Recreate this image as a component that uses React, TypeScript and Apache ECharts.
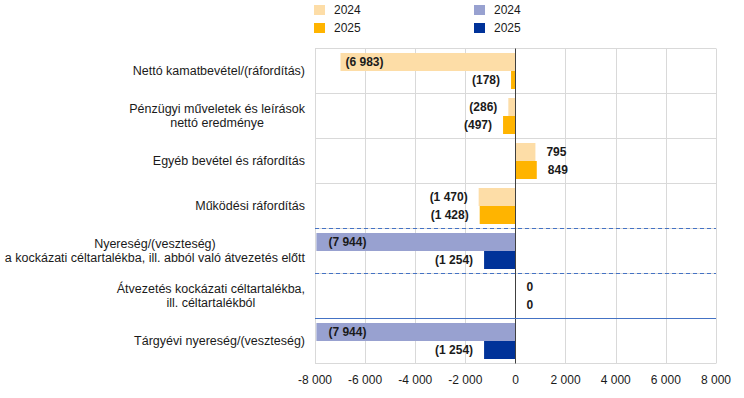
import React, { useEffect, useRef } from "react";
import * as echarts from "echarts";

const categories = [
  "Nettó kamatbevétel/(ráfordítás)",
  "Pénzügyi műveletek és leírások\nnettó eredménye",
  "Egyéb bevétel és ráfordítás",
  "Működési ráfordítás",
  "Nyereség/(veszteség)\na kockázati céltartalékba, ill. abból való átvezetés előtt",
  "Átvezetés kockázati céltartalékba,\nill. céltartalékból",
  "Tárgyévi nyereség/(veszteség)",
];

// first four categories (orange series)
const orange2024 = [-6983, -286, 795, -1470];
const orange2025 = [-178, -497, 849, -1428];
// last three categories (blue series)
const blue2024 = [-7944, 0, -7944];
const blue2025 = [-1254, 0, -1254];

const xTicks = { min: -8000, max: 8000, interval: 2000 };
const separatorLines = [4, 5, 6]; // boundaries before the blue categories

const FONT = "'Liberation Sans', Arial, sans-serif";

const fmt = (n: number) => String(Math.round(n)).replace(/\B(?=(\d{3})+(?!\d))/g, " ");
const fmtSigned = (v: number) => (v < 0 ? "-" + fmt(-v) : fmt(v));
const fmtLabel = (v: number) => (v < 0 ? `(${fmt(-v)})` : fmt(v));

function buildData(vals: (number | null)[], insideDist: number) {
  return vals.map((v) => {
    if (v === null) return "-";
    let position = "right";
    let distance = 11;
    if (v < 0) {
      if (v < -5000) {
        position = "insideLeft";
        distance = insideDist;
      } else {
        position = "left";
        distance = 11;
      }
    }
    return { value: v, label: { position, distance } };
  });
}

const pad = (n: number) => new Array(n).fill(null);

export default function App() {
  const ref = useRef<HTMLDivElement>(null);
  useEffect(() => {
    if (!ref.current) return;
    const chart = echarts.init(ref.current, null, { renderer: "svg" });
    const labelCommon = {
      show: true,
      fontFamily: FONT,
      fontSize: 12,
      fontWeight: "bold",
      color: "#1a1a1a",
      formatter: (p: any) => fmtLabel(Number(p.value)),
    };
    const barCommon = {
      type: "bar",
      barWidth: "40%",
      barGap: "0%",
      label: labelCommon,
    };
    const legendCommon = {
      orient: "vertical",
      top: 4,
      padding: 0,
      itemWidth: 11,
      itemHeight: 10,
      itemGap: 6,
      icon: "rect",
      selectedMode: false,
      textStyle: { fontFamily: FONT, fontSize: 12, color: "#1a1a1a", padding: [0, 0, 0, 4] },
      formatter: (name: string) => name.trim(),
    };
    chart.setOption({
      animation: false,
      legend: [
        { ...legendCommon, left: 314, data: ["2024", "2025"] },
        { ...legendCommon, left: 474, data: ["2024 ", "2025 "] },
      ],
      grid: { left: 315, right: 28, top: 48.5, bottom: 34.5 },
      xAxis: {
        type: "value",
        min: xTicks.min,
        max: xTicks.max,
        interval: xTicks.interval,
        axisLine: { show: false },
        axisTick: { show: false },
        splitLine: { show: true, lineStyle: { color: "#d9d9d9", width: 1 } },
        axisLabel: {
          fontFamily: FONT,
          fontSize: 12,
          color: "#1a1a1a",
          margin: 10,
          formatter: (v: number) => fmtSigned(v),
        },
      },
      yAxis: [
        {
          type: "category",
          inverse: true,
          data: categories,
          axisLine: { show: false },
          axisTick: { show: false },
          splitLine: { show: true, interval: 0, lineStyle: { color: "#d9d9d9", width: 1 } },
          axisLabel: {
            interval: 0,
            margin: 10,
            fontFamily: FONT,
            fontSize: 12.5,
            color: "#1a1a1a",
            lineHeight: 14,
            align: "right",
            formatter: (v: string) =>
              v
                .split("\n")
                .map((l) => `{c|${l}}`)
                .join("\n"),
            rich: {
              c: { align: "center", fontFamily: FONT, fontSize: 12.5, color: "#1a1a1a", lineHeight: 14 },
            },
          },
        },
        {
          type: "value",
          inverse: true,
          min: 0,
          max: categories.length,
          show: false,
          splitLine: { show: false },
        },
      ],
      series: [
        {
          ...barCommon,
          name: "2024",
          stack: "a",
          itemStyle: { color: "#fddda7" },
          data: buildData([...orange2024, ...pad(3)], 5),
          markLine: {
            silent: true,
            symbol: "none",
            label: { show: false },
            lineStyle: { color: "#404040", type: "solid", width: 1 },
            data: [{ xAxis: 0 }],
          },
        },
        {
          ...barCommon,
          name: "2025",
          stack: "b",
          itemStyle: { color: "#ffb400" },
          data: buildData([...orange2025, ...pad(3)], 5),
        },
        {
          ...barCommon,
          name: "2024 ",
          stack: "a",
          itemStyle: { color: "#98a1d0" },
          data: buildData([...pad(4), ...blue2024], 12),
        },
        {
          ...barCommon,
          name: "2025 ",
          stack: "b",
          itemStyle: { color: "#003299" },
          data: buildData([...pad(4), ...blue2025], 12),
        },
        {
          type: "line",
          name: "separators",
          yAxisIndex: 1,
          data: [],
          markLine: {
            silent: true,
            symbol: "none",
            label: { show: false },
            data: separatorLines.map((y, i) => ({
              yAxis: y,
              lineStyle: {
                color: "#4472c4",
                width: 1,
                type: i < 2 ? [4, 3] : "solid",
              },
            })),
          },
        },
      ],
    });
    return () => chart.dispose();
  }, []);
  return <div ref={ref} style={{ width: 744, height: 398, position: "absolute", left: 0, top: 0 }} />;
}
